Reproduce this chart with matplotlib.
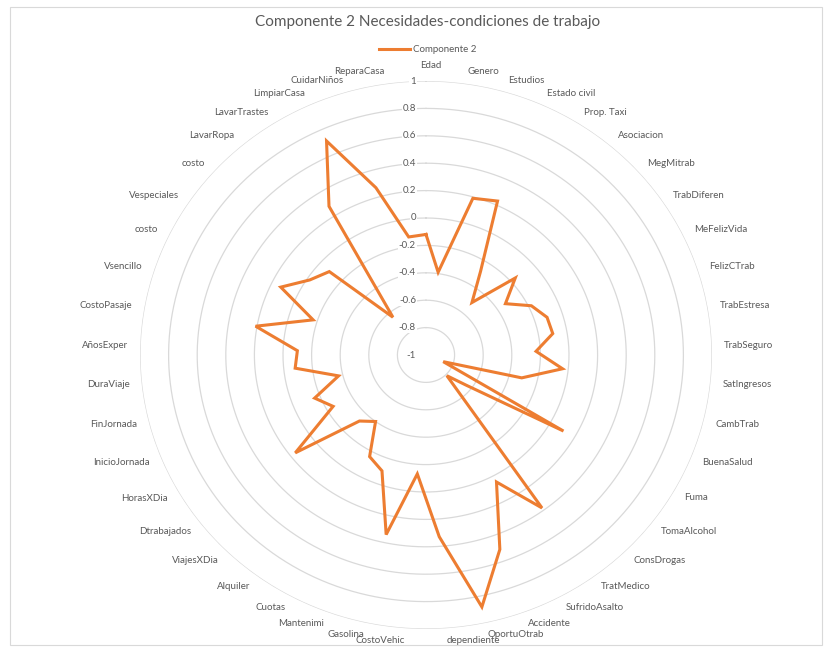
import numpy as np
import matplotlib.pyplot as plt
from matplotlib.transforms import ScaledTranslation
from matplotlib.lines import Line2D

plt.rcParams['font.family'] = ['Lato', 'DejaVu Sans']

categorias = ['Edad', 'Genero', 'Estudios', 'Estado civil', 'Prop. Taxi', 'Asociacion',
              'MegMitrab', 'TrabDiferen', 'MeFelizVida', 'FelizCTrab', 'TrabEstresa',
              'TrabSeguro', 'SatIngresos', 'CambTrab', 'BuenaSalud', 'Fuma', 'TomaAlcohol',
              'ConsDrogas', 'TratMedico', 'SufridoAsalto', 'Accidente', 'OportuOtrab',
              'dependiente', 'CostoVehic', 'Gasolina', 'Mantenimi', 'Cuotas', 'Alquiler',
              'ViajesXDia', 'Dtrabajados', 'HorasXDia', 'InicioJornada', 'FinJornada',
              'DuraViaje', 'AñosExper', 'CostoPasaje', 'Vsencillo', 'costo', 'Vespeciales',
              'costo', 'LavarRopa', 'LavarTrastes', 'LimpiarCasa', 'CuidarNiños', 'ReparaCasa']

componente2 = [-0.12, -0.39, 0.19, 0.23, -0.28, -0.50,
               -0.16, -0.33, -0.18, -0.11, -0.10,
               -0.23, -0.04, -0.31, -0.87, 0.11, -0.64,
               -0.79, 0.38, 0.05, 0.51, 0.88,
               0.33, -0.13, 0.34, -0.10, -0.16, -0.40,
               -0.33, 0.16, -0.25, -0.16, -0.37,
               -0.08, -0.10, 0.21, -0.17, 0.13, -0.02,
               -0.09, -0.64, 0.28, 0.71, 0.27, -0.13]

anillos = [-0.8, -0.6, -0.4, -0.2, 0, 0.2, 0.4, 0.6, 0.8, 1]
etiquetas_r = ['-1', '-0.8', '-0.6', '-0.4', '-0.2', '0', '0.2', '0.4', '0.6', '0.8', '1']

naranja = '#ED7D31'
gris = '#595959'
gris_claro = '#D9D9D9'

fig = plt.figure(figsize=(8.29, 6.48), dpi=100)

# marco del grafico
fig.add_artist(plt.Rectangle((10 / 829, 3 / 648), 812 / 829, 638 / 648, transform=fig.transFigure,
                             fill=False, edgecolor=gris_claro, linewidth=0.8))

ax = fig.add_axes([140 / 829, 19 / 648, 572 / 829, 548 / 648], projection='polar')
ax.set_aspect('auto')
ax.set_theta_zero_location('N')
ax.set_theta_direction(-1)
ax.set_ylim(-1, 1)
ax.grid(False)
ax.set_xticks([])
ax.set_yticks([])
ax.spines['polar'].set_visible(False)
ax.patch.set_alpha(0)

t = np.linspace(0, 2 * np.pi, 400)
for r in anillos:
    ax.plot(t, np.full_like(t, r), color=gris_claro, lw=0.9, zorder=1)

n = len(categorias)
ang = np.arange(n) * 2 * np.pi / n
ax.plot(np.append(ang, ang[0]), np.append(componente2, componente2[0]),
        color=naranja, lw=2.2, zorder=3, solid_joinstyle='miter')

# etiquetas de las categorias
ajustes = {0: (5, 3)}
for i, (a, nombre) in enumerate(zip(ang, categorias)):
    s, c = np.sin(a), np.cos(a)
    dx, dy = 12 * s, 12 * c
    ex, ey = ajustes.get(i, (0, 0))
    tr = ax.transData + ScaledTranslation((dx + ex) / 100, (dy + ey) / 100, fig.dpi_scale_trans)
    ha = 'left' if s > 0.05 else ('right' if s < -0.05 else 'center')
    ax.text(a, 1, nombre, transform=tr, ha=ha, va='center', fontsize=7,
            color=gris, clip_on=False)

# etiquetas del eje radial
tr_r = ax.transData + ScaledTranslation(-10 / 100, 0, fig.dpi_scale_trans)
for v, txt in zip([-1] + anillos, etiquetas_r):
    ax.text(0, v, txt, transform=tr_r, ha='right', va='center', fontsize=7, color=gris,
            zorder=4, bbox=dict(boxstyle='square,pad=0.1', fc='white', ec='none'))

fig.text(428 / 829, 1 - 22 / 648, 'Componente 2 Necesidades-condiciones de trabajo',
         ha='center', va='center', fontsize=11, color=gris)

fig.legend(handles=[Line2D([], [], color=naranja, lw=2.2)], labels=['Componente 2'],
           loc='center', bbox_to_anchor=(428 / 829, 1 - 50 / 648), frameon=False,
           fontsize=7, handlelength=3.2, handletextpad=0.3, labelcolor=gris)

fig.savefig('out.png', dpi=100)
